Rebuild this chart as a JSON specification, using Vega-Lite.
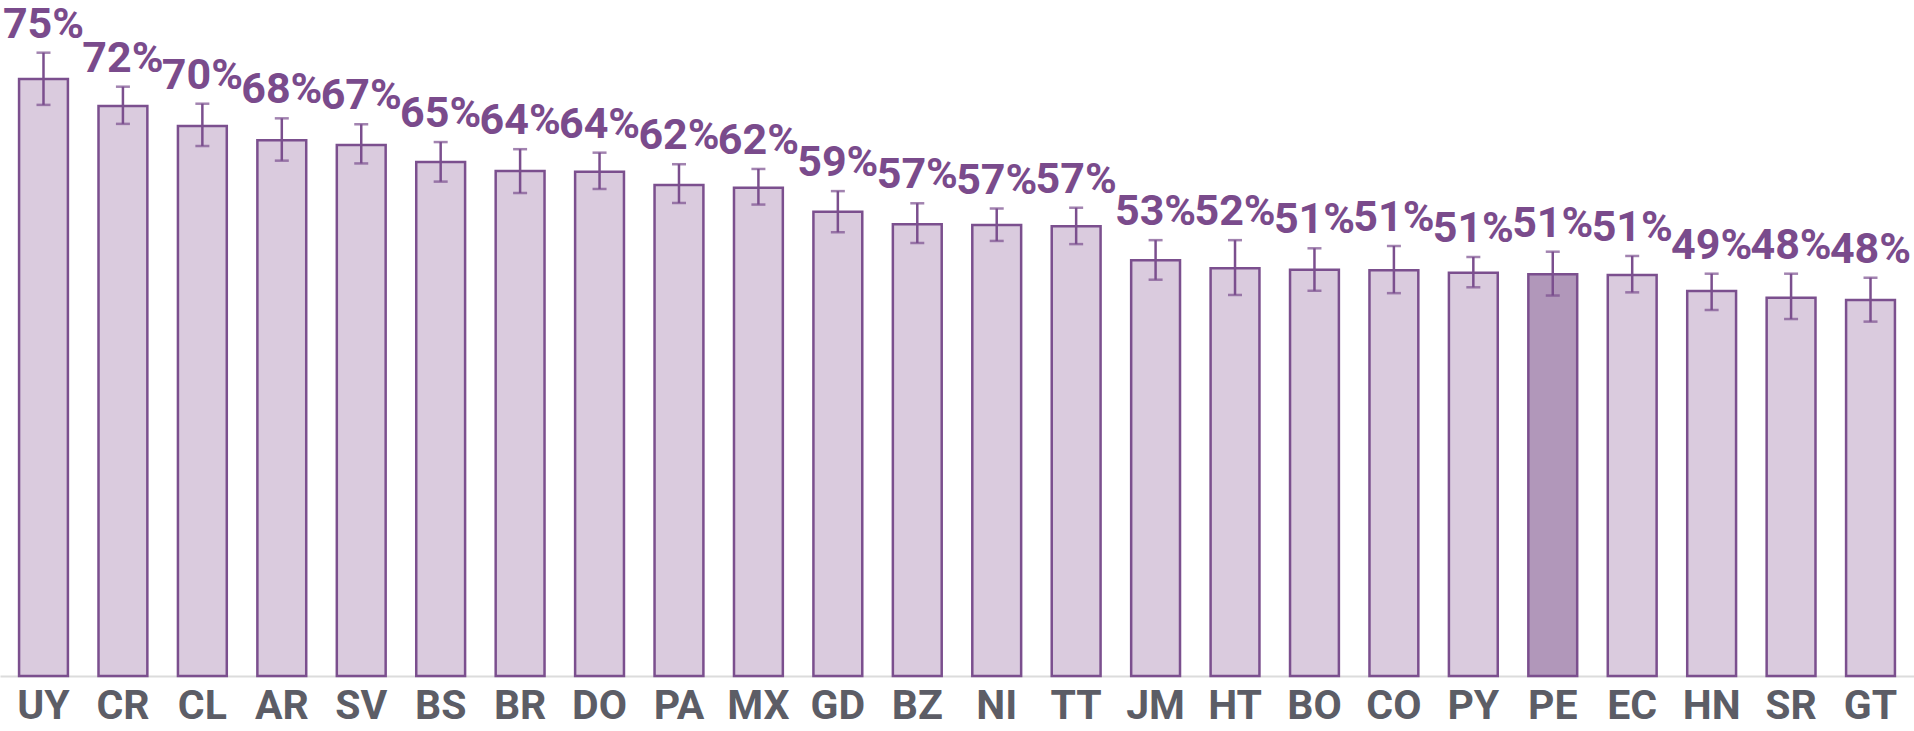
{
  "$schema": "https://vega.github.io/schema/vega-lite/v6.json",
  "width": 1914,
  "height": 676,
  "padding": 0,
  "background": "white",
  "config": {
    "view": {"stroke": null},
    "font": "Roboto"
  },
  "data": {
    "values": [
      {"country": "UY", "value": 0.7547, "lo": 0.722, "hi": 0.788},
      {"country": "CR", "value": 0.7206, "lo": 0.698, "hi": 0.745},
      {"country": "CL", "value": 0.6953, "lo": 0.670, "hi": 0.7235},
      {"country": "AR", "value": 0.6772, "lo": 0.6515, "hi": 0.705},
      {"country": "SV", "value": 0.6713, "lo": 0.648, "hi": 0.6975},
      {"country": "BS", "value": 0.6498, "lo": 0.625, "hi": 0.675},
      {"country": "BR", "value": 0.6384, "lo": 0.6106, "hi": 0.666},
      {"country": "DO", "value": 0.6376, "lo": 0.6157, "hi": 0.6616},
      {"country": "PA", "value": 0.6207, "lo": 0.598, "hi": 0.647},
      {"country": "MX", "value": 0.6173, "lo": 0.596, "hi": 0.641},
      {"country": "GD", "value": 0.587, "lo": 0.561, "hi": 0.613},
      {"country": "BZ", "value": 0.571, "lo": 0.5474, "hi": 0.5976},
      {"country": "NI", "value": 0.5702, "lo": 0.550, "hi": 0.591},
      {"country": "TT", "value": 0.5685, "lo": 0.546, "hi": 0.592},
      {"country": "JM", "value": 0.5255, "lo": 0.501, "hi": 0.551},
      {"country": "HT", "value": 0.5154, "lo": 0.4817, "hi": 0.551},
      {"country": "BO", "value": 0.5137, "lo": 0.487, "hi": 0.5407},
      {"country": "CO", "value": 0.5129, "lo": 0.484, "hi": 0.5436},
      {"country": "PY", "value": 0.5099, "lo": 0.4914, "hi": 0.5297},
      {"country": "PE", "value": 0.5078, "lo": 0.481, "hi": 0.5364},
      {"country": "EC", "value": 0.507, "lo": 0.485, "hi": 0.531},
      {"country": "HN", "value": 0.4868, "lo": 0.4627, "hi": 0.5086},
      {"country": "SR", "value": 0.4783, "lo": 0.4513, "hi": 0.5086},
      {"country": "GT", "value": 0.4753, "lo": 0.448, "hi": 0.5035}
    ]
  },
  "encoding": {
    "x": {
      "field": "country",
      "type": "nominal",
      "sort": null,
      "scale": {"paddingInner": 0.385, "paddingOuter": 0.24},
      "axis": {
        "title": null,
        "labelAngle": 0,
        "ticks": false,
        "domainColor": "#dcdcdc",
        "domainWidth": 2,
        "labelFont": "Roboto",
        "labelFontWeight": "bold",
        "labelFontSize": 41,
        "labelColor": "#5c5d66",
        "labelPadding": 10
      }
    }
  },
  "layer": [
    {
      "mark": {"type": "bar", "stroke": "#7b4f8e", "strokeWidth": 2.5},
      "encoding": {
        "y": {
          "field": "value",
          "type": "quantitative",
          "scale": {"domain": [0, 0.8546], "nice": false, "zero": true},
          "axis": null
        },
        "fill": {
          "condition": {"test": "datum.country === 'PE'", "value": "#b197ba"},
          "value": "#dacbde"
        }
      }
    },
    {
      "mark": {"type": "rule", "color": "#7b4f8e", "strokeWidth": 2.5},
      "encoding": {
        "y": {"field": "lo", "type": "quantitative"},
        "y2": {"field": "hi"}
      }
    },
    {
      "mark": {"type": "tick", "color": "#7b4f8e", "thickness": 2.5, "size": 14},
      "encoding": {
        "y": {"field": "lo", "type": "quantitative"}
      }
    },
    {
      "mark": {"type": "tick", "color": "#7b4f8e", "thickness": 2.5, "size": 14},
      "encoding": {
        "y": {"field": "hi", "type": "quantitative"}
      }
    },
    {
      "mark": {
        "type": "text",
        "font": "Roboto",
        "fontWeight": "bold",
        "fontSize": 43,
        "color": "#7a4b8c",
        "baseline": "alphabetic",
        "dy": -15
      },
      "encoding": {
        "y": {"field": "hi", "type": "quantitative"},
        "text": {"field": "value", "type": "quantitative", "format": ".0%"}
      }
    }
  ]
}
